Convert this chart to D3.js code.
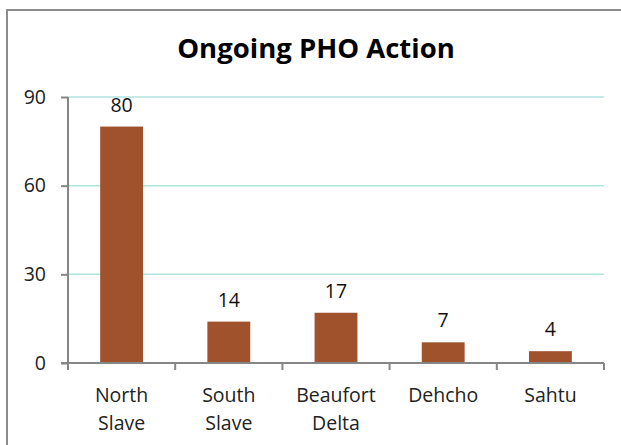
<!DOCTYPE html>
<html><head><meta charset="utf-8">
<script src="https://cdn.jsdelivr.net/npm/d3@7"></script>
<style>body{margin:0;background:#fff}svg{display:block}</style>
</head><body>
<script>
const categories = [["North","Slave"],["South","Slave"],["Beaufort","Delta"],["Dehcho"],["Sahtu"]];
const values = [80, 14, 17, 7, 4];
const yTicks = [0, 30, 60, 90];
const title = "Ongoing PHO Action";

const W = 621, H = 445;
const m = {left: 68, right: 17, top: 97, bottom: 82};
const svg = d3.select("body").append("svg").attr("width", W).attr("height", H);
const font = "'Open Sans', sans-serif";

svg.append("rect").attr("x", 7).attr("y", 10).attr("width", 640).attr("height", 460)
  .attr("fill", "none").attr("stroke", "#8c8c8c").attr("stroke-width", 2);

const keys = categories.map(c => c.join(" "));
const x = d3.scaleBand().domain(keys).range([m.left, W - m.right]).paddingInner(0.6).paddingOuter(0.3);
const y = d3.scaleLinear().domain([0, 90]).range([H - m.bottom, m.top]);

svg.append("text").attr("x", 316).attr("y", 58).attr("text-anchor", "middle")
  .attr("font-family", font).attr("font-weight", "bold").attr("font-size", 27.5).attr("fill", "#000").text(title);

// gridlines
svg.append("g").selectAll("line").data(yTicks.filter(d => d > 0)).join("line")
  .attr("x1", m.left).attr("x2", W - m.right).attr("y1", d => y(d)).attr("y2", d => y(d))
  .attr("stroke", "#b0e4df").attr("stroke-width", 1.5);

// bars
svg.append("g").selectAll("rect").data(values).join("rect")
  .attr("x", (d, i) => x(keys[i])).attr("width", x.bandwidth())
  .attr("y", d => y(d)).attr("height", d => y(0) - y(d))
  .attr("fill", "#a0522d");

// value labels
svg.append("g").selectAll("text").data(values).join("text")
  .attr("x", (d, i) => x(keys[i]) + x.bandwidth() / 2).attr("y", d => y(d) - 15)
  .attr("text-anchor", "middle").attr("font-family", font).attr("font-size", 19.5).attr("fill", "#111")
  .text(d => d);

// y axis
const ya = svg.append("g").attr("transform", `translate(${m.left},0)`)
  .call(d3.axisLeft(y).tickValues(yTicks).tickSize(7).tickPadding(15));
ya.selectAll("text").attr("font-family", font).attr("font-size", 19.5).attr("fill", "#222");
ya.selectAll("line,path").attr("stroke", "#868686").attr("stroke-width", 2);
ya.select("path").attr("d", `M0,${y(90)}V${y(0)}`);

// x axis
const xa = svg.append("g").attr("transform", `translate(0,${y(0)})`);
xa.append("line").attr("x1", m.left - 7).attr("x2", W - m.right).attr("stroke", "#868686").attr("stroke-width", 2);
const step = x.step();
const edges = keys.map((k, i) => x(k) - x.paddingInner() * step / 2).concat([W - m.right]);
xa.selectAll("line.t").data(edges).join("line").attr("class", "t")
  .attr("x1", d => d).attr("x2", d => d).attr("y1", 0).attr("y2", 7)
  .attr("stroke", "#868686").attr("stroke-width", 2);
const lbl = xa.selectAll("text").data(categories).join("text")
  .attr("x", (d, i) => x(keys[i]) + x.bandwidth() / 2).attr("y", 39)
  .attr("text-anchor", "middle").attr("font-family", font).attr("font-size", 19.5).attr("fill", "#222");
lbl.selectAll("tspan").data(d => d).join("tspan")
  .attr("x", function() { return this.parentNode.getAttribute("x"); })
  .attr("dy", (d, i) => i === 0 ? 0 : 28).text(d => d);
</script>
</body></html>
